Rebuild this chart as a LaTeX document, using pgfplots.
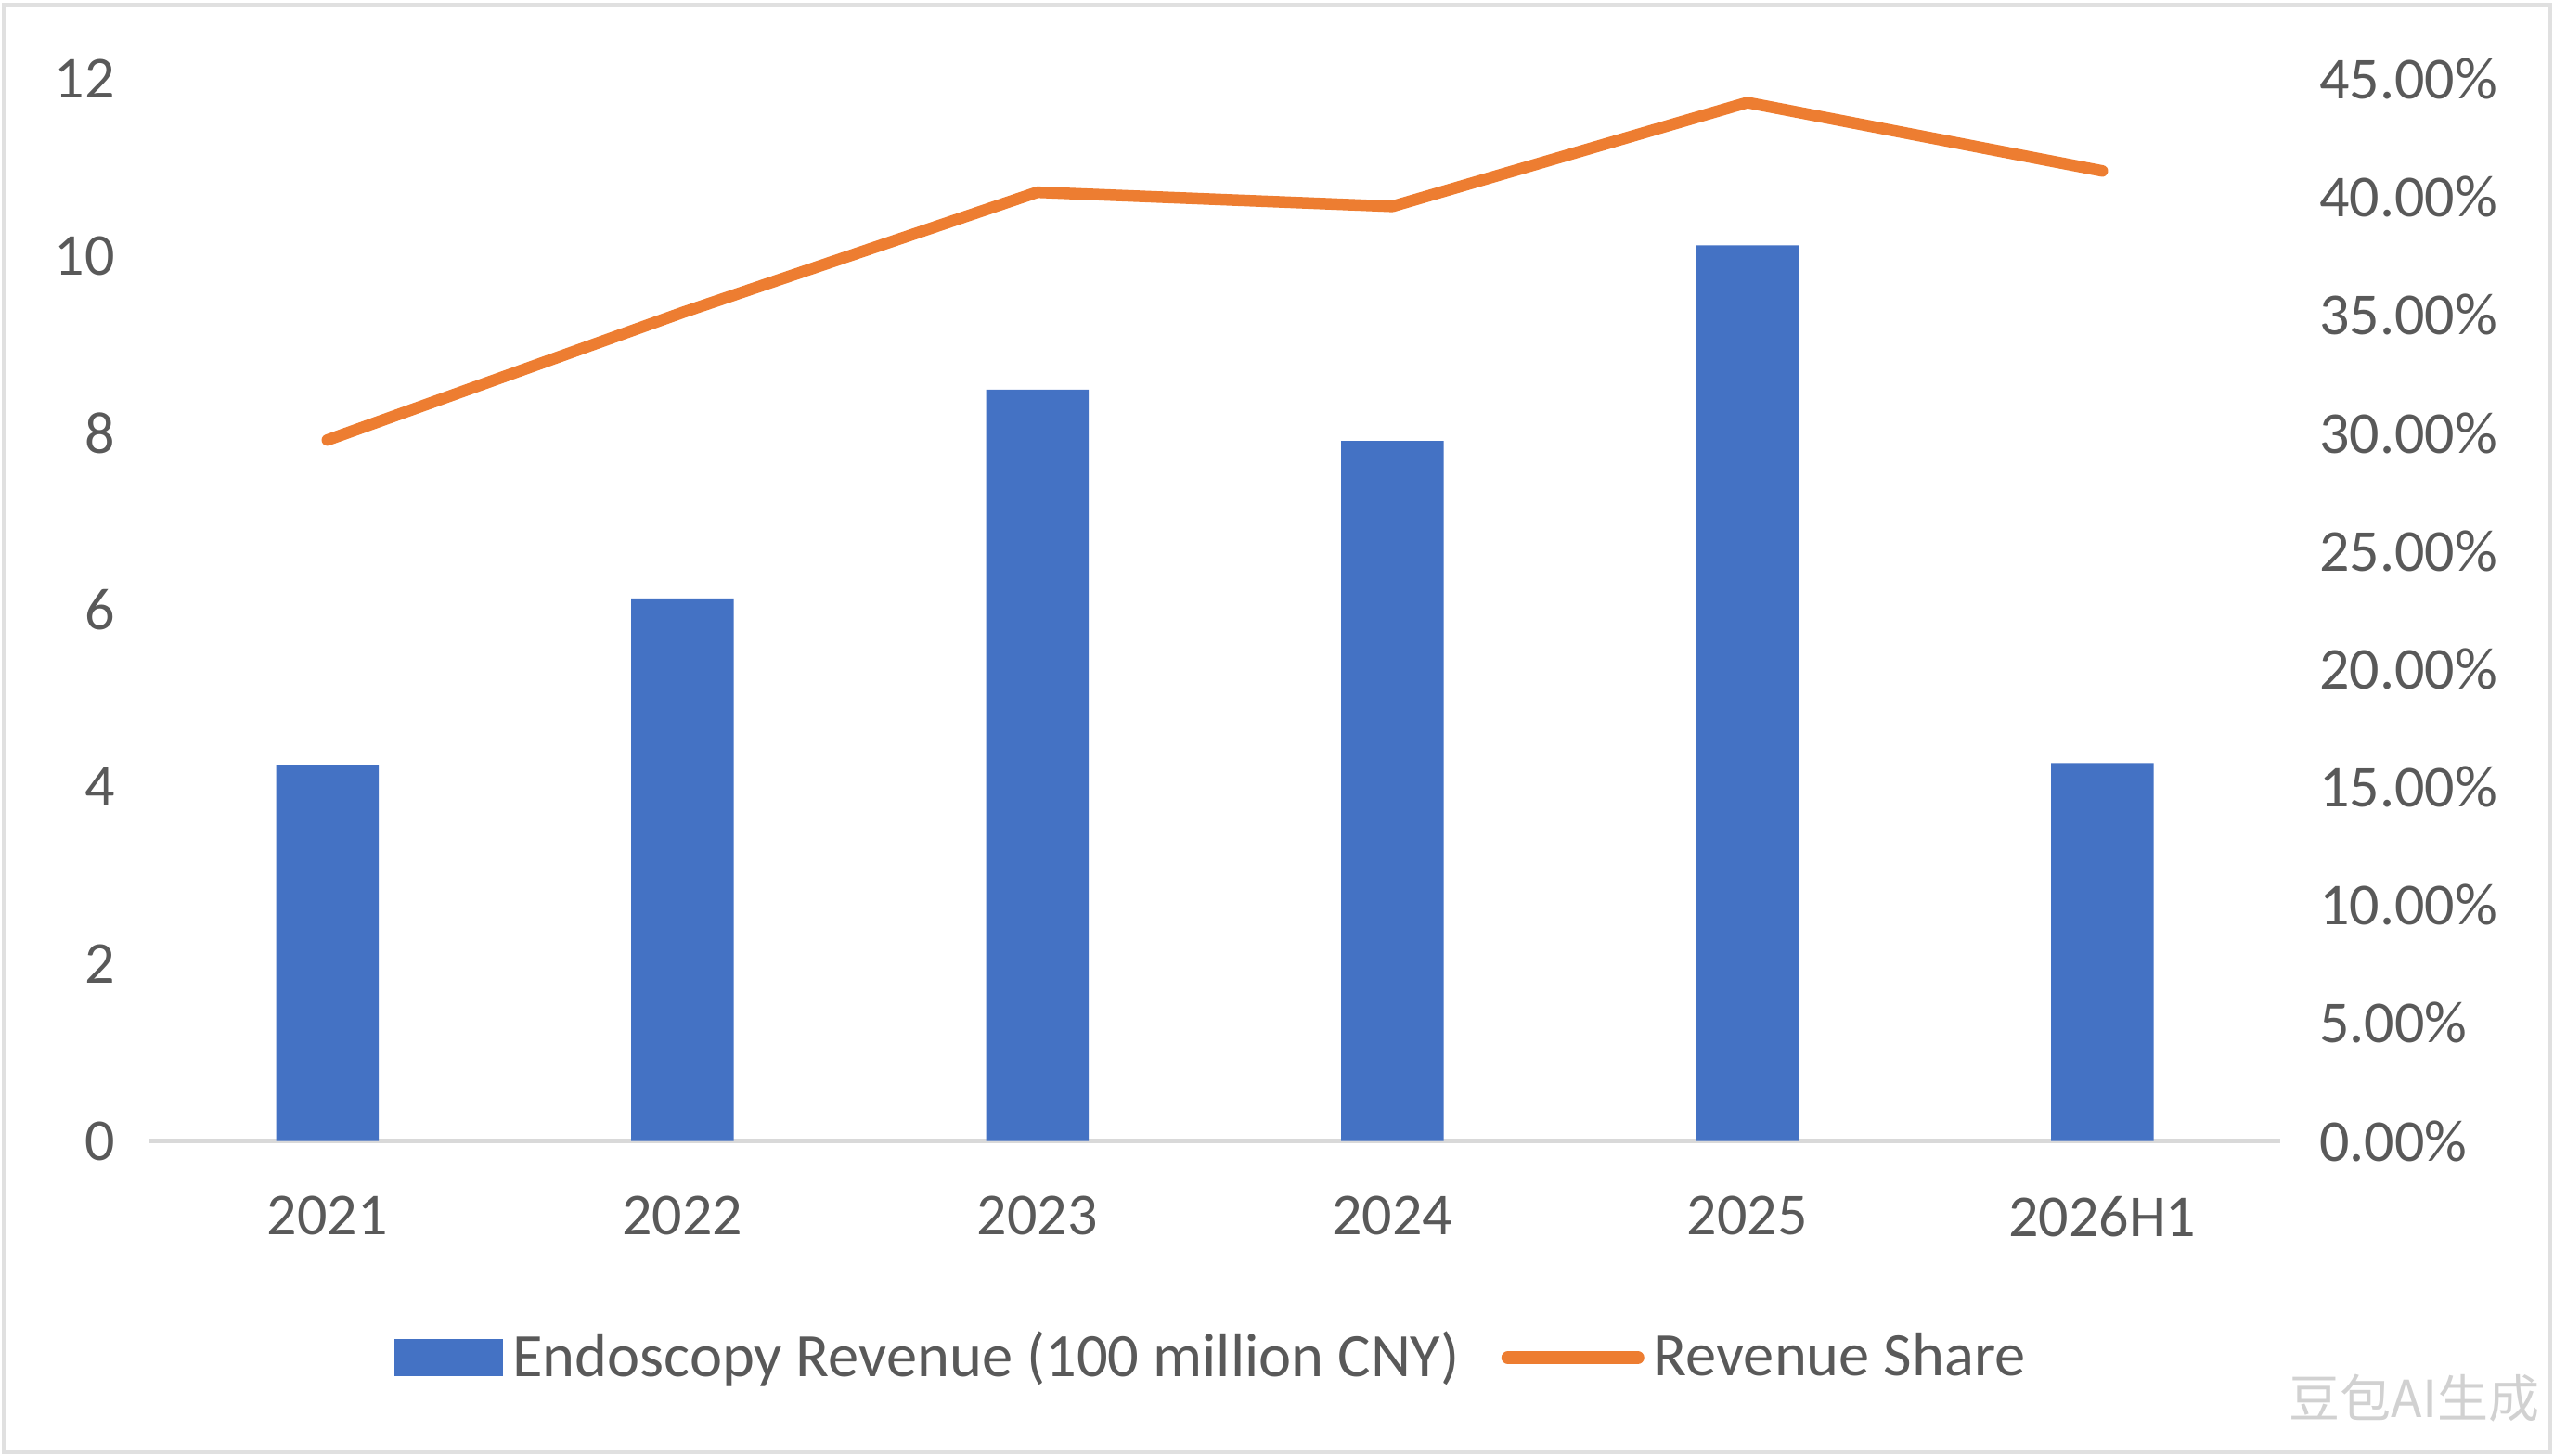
\documentclass[border=0pt]{standalone}
\usepackage{pgfplots}
\pgfplotsset{compat=1.18}
\usepackage{fontspec}
\setmainfont{Carlito}
\newfontfamily\cjk{Noto Sans CJK SC}
\definecolor{barblue}{HTML}{4472C4}
\definecolor{lineorange}{HTML}{ED7D31}
\definecolor{txt}{HTML}{595959}
\begin{document}
\begin{tikzpicture}
\pgfplotsset{
  common/.style={
    width=459pt, height=228.9pt, scale only axis,
    xmin=-0.5, xmax=5.5, xtick={0,...,5},
    major tick length=0pt,
    /pgf/number format/assume math mode=true,
    ticklabel style={font=\fontsize{12.8}{15}\selectfont, text=txt},
  }
}
\begin{axis}[common,
  ymin=0, ymax=12, ytick={0,2,...,12},
  axis y line*=left, axis x line*=bottom,
  x axis line style={draw=black!15, line width=1pt},
  y axis line style={draw=none},
  xticklabels={2021,2022,2023,2024,2025,2026H1},
  xticklabel style={yshift=-8.4pt},
  yticklabel style={xshift=-4pt},
]
\coordinate (SW) at (rel axis cs:0,0);
\addplot[ybar, bar width=22.1pt, fill=barblue, draw=none]
  coordinates {(0,4.25) (1,6.13) (2,8.49) (3,7.91) (4,10.12) (5,4.27)};
\end{axis}
\begin{axis}[common,
  ymin=0, ymax=45, ytick={0,5,...,45},
  axis y line*=right, axis x line=none,
  y axis line style={draw=none},
  xticklabels={},
  yticklabel={\pgfmathprintnumber[fixed,fixed zerofill,precision=2]{\tick}\%},
  yticklabel style={xshift=5pt},
  legend style={at={(0.5,0)}, anchor=center, yshift=-46.7pt, draw=none, fill=none,
    legend columns=-1, font=\fontsize{13.3}{16}\selectfont, text=txt,
    /tikz/every even column/.append style={column sep=7pt}},
]
\addlegendimage{legend image code/.code={\fill[barblue] (0pt,-3.8pt) rectangle (23pt,3.8pt);}}
\addlegendentry{Endoscopy Revenue (100 million CNY)}
\addplot[lineorange, line width=2.5pt, line join=round, line cap=round, mark=none,
  legend image code/.code={\draw[lineorange, line width=2.8pt] (0pt,0pt) -- (28pt,0pt);}]
  coordinates {(0,29.7) (1,35.1) (2,40.2) (3,39.6) (4,44.0) (5,41.1)};
\addlegendentry{Revenue Share}
\end{axis}
\node[text=black!18, font=\cjk\fontsize{11}{12}\selectfont] at ([shift={(488pt,-55.5pt)}]SW) {豆包AI生成};
\pgfresetboundingbox
\path[use as bounding box] ([shift={(-32.3pt,-67.7pt)}]SW) rectangle ++(550.4pt,313.6pt);
\draw[black!12, line width=1pt] ([shift={(-31.3pt,-67.0pt)}]SW) rectangle ++(548.4pt,311.8pt);
\end{tikzpicture}
\end{document}
